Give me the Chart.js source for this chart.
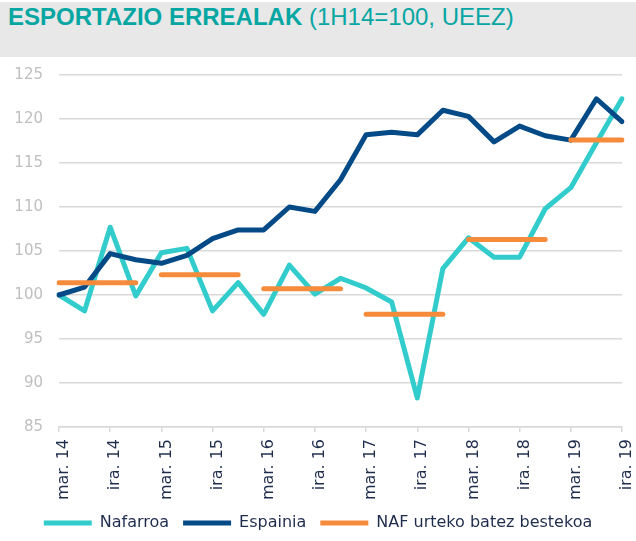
<!DOCTYPE html>
<html>
<head>
<meta charset="utf-8">
<script src="https://cdn.jsdelivr.net/npm/chart.js@4"></script>
<style>
  html, body { margin: 0; padding: 0; background: #fff; }
  #kaxa { position: relative; width: 636px; height: 541px; }
  #banda { position: absolute; left: 0; top: 2px; width: 636px; height: 55px; background: #e8e8e8; }
  #izenburua { position: absolute; left: 8px; top: 5px; font-family: 'Liberation Sans', Arial, sans-serif;
    font-size: 24px; line-height: 24px; color: #06a6a2; white-space: nowrap; }
  #izenburua b { font-weight: bold; }
  #grafikoa { position: absolute; left: 0; top: 0; }
</style>
</head>
<body>
<div id="kaxa">
  <div id="banda"></div>
  <div id="izenburua"><b>ESPORTAZIO ERREALAK</b> (1H14=100, UEEZ)</div>
  <canvas id="grafikoa" width="636" height="541"></canvas>
</div>
<script>
// hiruhilekoak
var etiketak = ['mar. 14','eka. 14','ira. 14','abe. 14',
                'mar. 15','eka. 15','ira. 15','abe. 15',
                'mar. 16','eka. 16','ira. 16','abe. 16',
                'mar. 17','eka. 17','ira. 17','abe. 17',
                'mar. 18','eka. 18','ira. 18','abe. 18',
                'mar. 19','eka. 19','ira. 19'];

var nafarroa = [100, 98.2, 107.7, 99.9, 104.8, 105.3, 98.2, 101.4, 97.8, 103.4, 100.1, 101.9,
                100.8, 99.2, 88.3, 103.0, 106.5, 104.3, 104.3, 109.8, 112.2, 117.3, 122.3];

var espainia = [100, 100.9, 104.7, 104.0, 103.6, 104.5, 106.4, 107.4, 107.4, 110.0, 109.5, 113.1,
                118.2, 118.5, 118.2, 121.0, 120.3, 117.4, 119.2, 118.1, 117.6, 122.3, 119.7];

// urteko batez bestekoa (2014..2019)
var urteak = ['2014', '2015', '2016', '2017', '2018', '2019'];
var batezBestekoa = [101.4, 102.3, 100.7, 97.8, 106.3, 117.6];

var yTikak = [85, 90, 95, 100, 105, 110, 115, 120, 125];

var nafBatez = [];
for (var i in etiketak) {
    nafBatez.push(batezBestekoa[Math.floor(i / 4)]);
}

Chart.defaults.font.family = 'DejaVu Sans';

const campo = document.getElementById('grafikoa');
new Chart(campo, {
    type: 'line',
    data: {
        labels: etiketak,
        datasets: [
            {
                label: 'Nafarroa',
                data: nafarroa,
                borderColor: '#33cccc',
                backgroundColor: '#33cccc',
                borderWidth: 5,
                borderCapStyle: 'round',
                borderJoinStyle: 'round',
                pointRadius: 0,
                tension: 0,
                order: 3
            },
            {
                label: 'Espainia',
                data: espainia,
                borderColor: '#044a86',
                backgroundColor: '#044a86',
                borderWidth: 5,
                borderCapStyle: 'round',
                borderJoinStyle: 'round',
                pointRadius: 0,
                tension: 0,
                order: 2
            },
            {
                label: 'NAF urteko batez bestekoa',
                data: nafBatez,
                borderColor: '#f68b3c',
                backgroundColor: '#f68b3c',
                borderWidth: 5,
                borderCapStyle: 'round',
                pointRadius: 0,
                tension: 0,
                order: 1,
                segment: {
                    borderColor: function(ctx) {
                        return Math.floor(ctx.p0DataIndex / 4) !== Math.floor(ctx.p1DataIndex / 4) ? 'rgba(0,0,0,0)' : undefined;
                    }
                }
            }
        ]
    },
    options: {
        responsive: false,
        animation: false,
        layout: { padding: { left: 14, right: 14, top: 75, bottom: 0 } },
        plugins: {
            title: { display: false },
            tooltip: { enabled: false },
            legend: {
                position: 'bottom',
                labels: {
                    usePointStyle: true,
                    pointStyle: 'line',
                    pointStyleWidth: 48,
                    padding: 14,
                    color: '#1f2d4d',
                    font: { size: 16 },
                    sort: function(a, b) { return a.datasetIndex - b.datasetIndex; }
                }
            }
        },
        scales: {
            x: {
                offset: false,
                grid: {
                    drawOnChartArea: false,
                    drawTicks: true,
                    tickLength: 5,
                    color: '#d9d9d9',
                    lineWidth: 1.5
                },
                border: { display: true, color: '#d9d9d9', width: 1.5 },
                ticks: {
                    autoSkip: false,
                    maxRotation: 90,
                    minRotation: 90,
                    padding: 7,
                    labelOffset: 5,
                    color: '#1f2d4d',
                    font: { size: 16 },
                    callback: function(v, idx) {
                        return idx % 2 === 0 ? etiketak[idx] : null;
                    }
                },
                afterFit: function(scale) {
                    scale.height = 74;
                    scale.paddingLeft = 0;
                    scale.paddingRight = 0;
                }
            },
            y: {
                min: 85,
                max: 125,
                afterBuildTicks: function(scale) {
                    scale.ticks = yTikak.map(function(v) { return { value: v }; });
                },
                afterFit: function(scale) {
                    scale.width = 45;
                },
                grid: { color: '#d9d9d9', lineWidth: 1.5, drawTicks: false },
                border: { display: false },
                ticks: {
                    padding: 16,
                    color: '#bfbfbf',
                    font: { size: 15 }
                }
            }
        }
    }
});
</script>
</body>
</html>
